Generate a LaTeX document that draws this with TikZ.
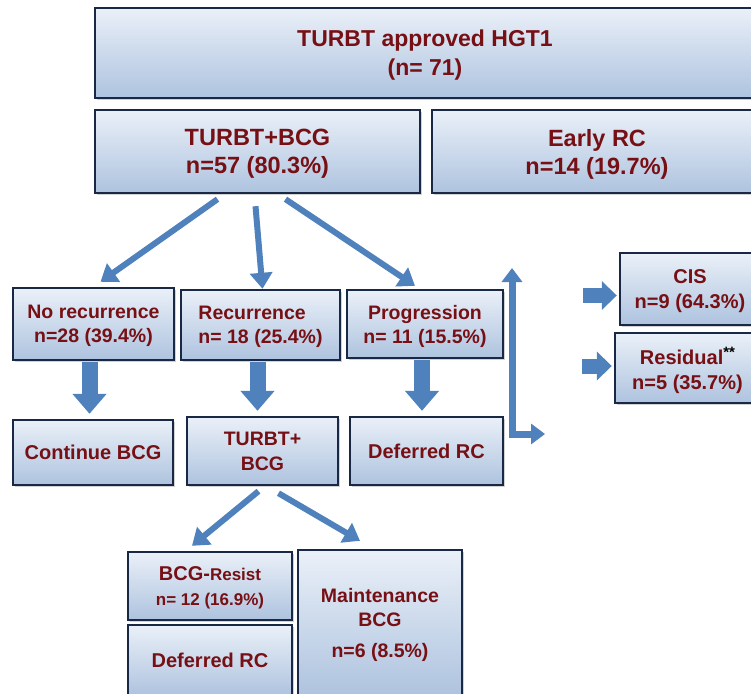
\documentclass[tikz,border=0pt]{standalone}
\usepackage{fontspec}
\setmainfont{Liberation Sans}
\usepackage{xcolor}
\usepackage{tikz}
\usetikzlibrary{arrows.meta}
\usetikzlibrary{shadows}
\definecolor{boxline}{RGB}{25,40,68}
\definecolor{boxtop}{RGB}{234,240,248}
\definecolor{boxbottom}{RGB}{174,195,223}
\definecolor{boxtext}{RGB}{118,16,20}
\definecolor{arrowblue}{RGB}{79,129,189}
\tikzset{flowbox/.style={draw=boxline, line width=2.4pt, top color=boxtop, bottom color=boxbottom,
  text=boxtext, align=center, inner sep=0pt, text depth=0pt,
  drop shadow={shadow xshift=2pt, shadow yshift=-2pt, opacity=0.35},
  font=\bfseries\fontsize{19.5}{24}\selectfont}}
\tikzset{arr/.style={draw=arrowblue, line width=6pt, -{Triangle[width=22pt,length=16pt]}}}
\tikzset{barr/.style={draw=arrowblue, line width=16pt, -{Triangle[width=33pt,length=20pt]}}}
\tikzset{rarr/.style={draw=arrowblue, line width=15pt, -{Triangle[width=28pt,length=15pt]}}}
\tikzset{elbow/.style={draw=arrowblue, line width=7pt, {Triangle[width=20pt,length=14pt]}-{Triangle[width=20pt,length=14pt]}}}

\begin{document}
\begin{tikzpicture}[x=1pt, y=-1pt]
\useasboundingbox (0,0) rectangle (751,693);
\clip (0,0) rectangle (751,693);
\fill[white] (0,0) rectangle (751,693);
{
% first split
\node[flowbox, minimum width=660pt, minimum height=90pt, font=\bfseries\fontsize{23}{29}\selectfont] (top) at (425,53) {TURBT approved HGT1\\(n= 71)};
\node[flowbox, minimum width=325pt, minimum height=83pt, font=\bfseries\fontsize{23.5}{28}\selectfont] (tb) at (257.5,151.5) {TURBT+BCG\\n=57 (80.3\%)};
\node[flowbox, minimum width=330pt, minimum height=83pt, font=\bfseries\fontsize{23.5}{28}\selectfont] (erc) at (597,151.5) {Early RC\\n=14 (19.7\%)};

% outcomes after BCG
\node[flowbox, minimum width=161pt, minimum height=72pt] (norec) at (93.5,324) {No recurrence\\n=28 (39.4\%)};
\node[flowbox, minimum width=159pt, minimum height=70pt, align=left] (rec) at (260.5,325) {Recurrence\\n= 18 (25.4\%)};
\node[flowbox, minimum width=156pt, minimum height=68pt] (prog) at (425,324) {Progression\\n= 11 (15.5\%)};
\node[flowbox, minimum width=160pt, minimum height=65pt, font=\bfseries\fontsize{20}{25}\selectfont] (cont) at (93,452.5) {Continue BCG};
\node[flowbox, minimum width=151pt, minimum height=68pt, font=\bfseries\fontsize{19.5}{25}\selectfont] (tb2) at (262.5,451) {TURBT+\\BCG};
\node[flowbox, minimum width=153pt, minimum height=68pt, font=\bfseries\fontsize{20}{25}\selectfont] (def1) at (426.5,451) {Deferred RC};

% early RC findings
\node[flowbox, minimum width=140pt, minimum height=72pt, font=\bfseries\fontsize{20}{25}\selectfont] (cis) at (690,289) {CIS\\n=9 (64.3\%)};
\node[flowbox, minimum width=145pt, minimum height=70pt, font=\bfseries\fontsize{20}{25}\selectfont] (resid) at (687.5,368) {Residual\raisebox{7pt}{\color{black}\fontsize{15}{15}\selectfont**}\\n=5 (35.7\%)};

% after second TURBT
\node[flowbox, minimum width=164pt, minimum height=68pt, font=\bfseries\fontsize{17}{25}\selectfont] (resist) at (210,586) {{\fontsize{20}{25}\selectfont BCG-}Resist\\n= 12 (16.9\%)};
\node[flowbox, minimum width=164pt, minimum height=71pt, font=\bfseries\fontsize{20}{25}\selectfont] (def2) at (210,660.5) {Deferred RC};
\node[flowbox, minimum width=164pt, minimum height=146pt] (maint) at (380,623) {Maintenance\\BCG\\[7pt]n=6 (8.5\%)};

\coordinate (progup) at (512,268);
\coordinate (progout) at (545,434);
\coordinate (cisin) at (583,295.5);
\coordinate (residin) at (582,366);

\draw[arr] ([xshift=-40pt,yshift=-5pt]tb.south) -- ([xshift=7pt,yshift=5pt]norec.north);
\draw[arr] ([xshift=-2pt,yshift=-12pt]tb.south) -- ([xshift=2pt]rec.north);
\draw[arr] ([xshift=28pt,yshift=-5pt]tb.south) -- ([xshift=-10pt,yshift=3pt]prog.north);
\draw[barr] ([xshift=-4pt,yshift=-1pt]norec.south) -- ([xshift=-4pt,yshift=5pt]norec.south |- cont.north);
\draw[barr] ([xshift=-3pt,yshift=-1pt]rec.south) -- ([xshift=-3pt,yshift=5pt]rec.south |- tb2.north);
\draw[barr] ([xshift=-3pt,yshift=-1pt]prog.south) -- ([xshift=-3pt,yshift=5pt]prog.south |- def1.north);
\draw[elbow] (progup) |- (progout);
\draw[rarr] (cisin) -- ([xshift=-2pt]cisin -| cis.west);
\draw[rarr] (residin) -- ([xshift=-2pt]residin -| resid.west);
\draw[arr] ([xshift=-4pt,yshift=-5pt]tb2.south) -- ([xshift=-18pt,yshift=5pt]resist.north);
\draw[arr] ([xshift=16pt,yshift=-7pt]tb2.south) -- ([xshift=-20pt,yshift=8pt]maint.north);
}
\end{tikzpicture}
\end{document}
